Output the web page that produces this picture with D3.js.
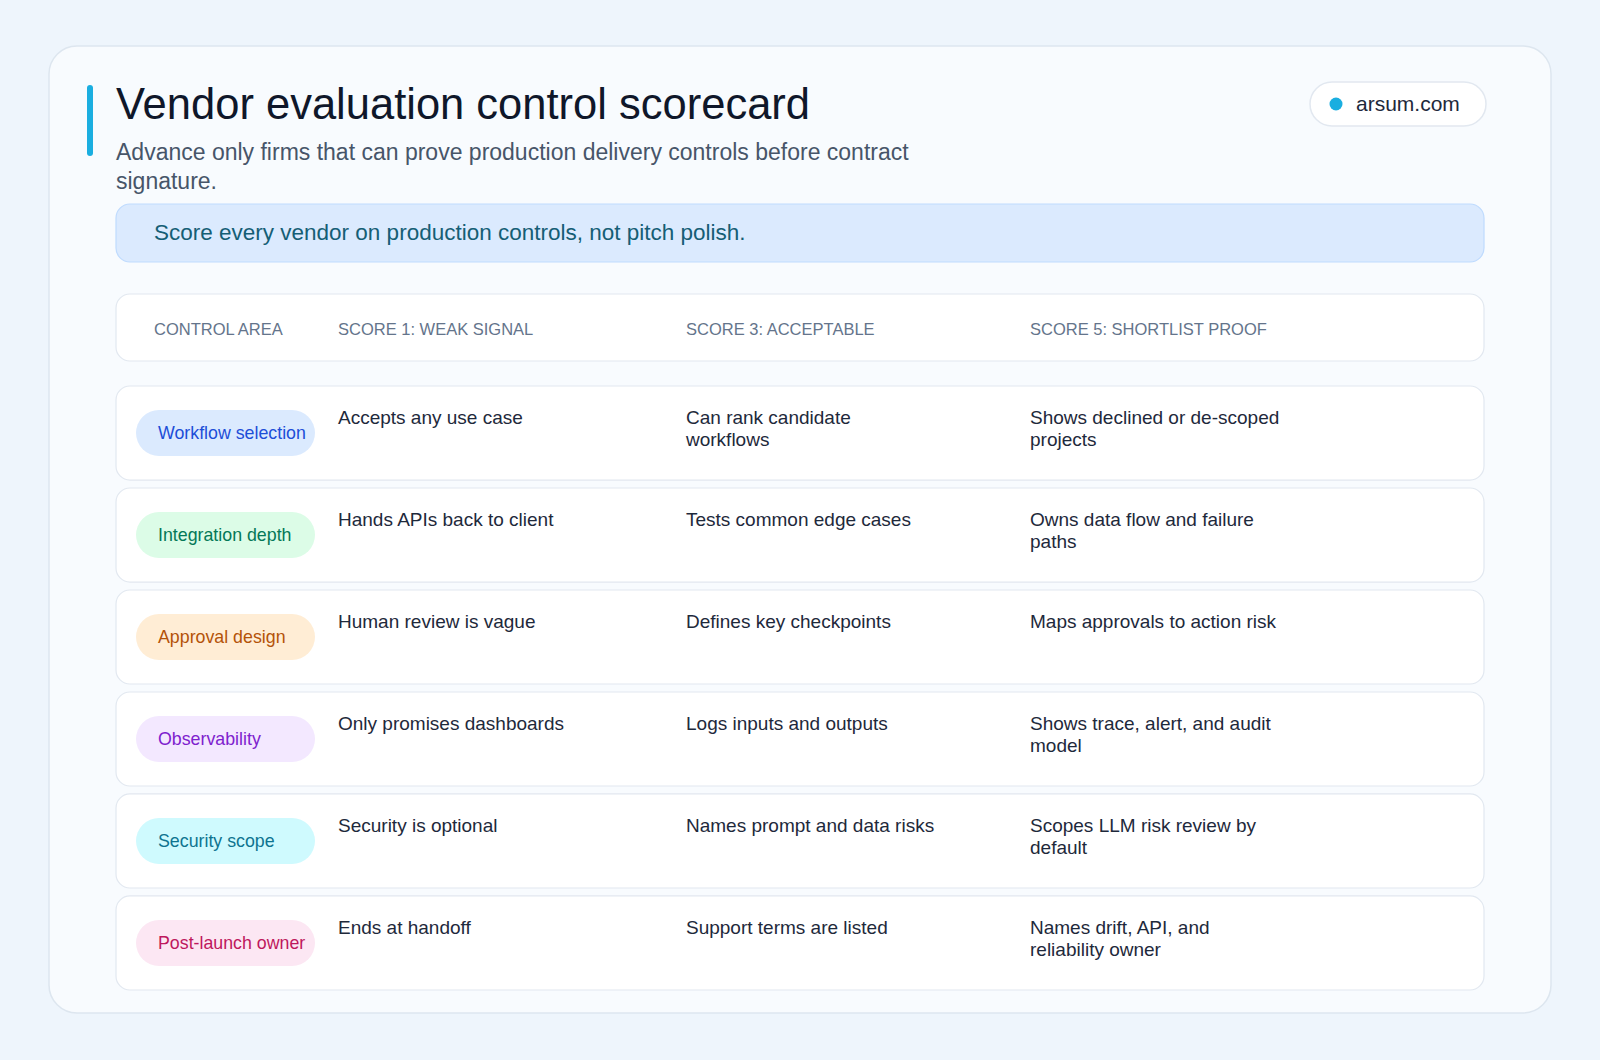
<!DOCTYPE html>
<html><head><meta charset="utf-8">
<script src="https://cdn.jsdelivr.net/npm/d3@7"></script>
<style>body{margin:0;background:#eef5fc}svg{display:block}</style>
</head><body><div id="chart"></div>
<script>
// scorecard content
var columns = ["CONTROL AREA", "SCORE 1: WEAK SIGNAL", "SCORE 3: ACCEPTABLE", "SCORE 5: SHORTLIST PROOF"];
var areas = ["Workflow selection", "Integration depth", "Approval design", "Observability", "Security scope", "Post-launch owner"];
var weak = ["Accepts any use case", "Hands APIs back to client", "Human review is vague", "Only promises dashboards", "Security is optional", "Ends at handoff"];
var acceptable = ["Can rank candidate workflows", "Tests common edge cases", "Defines key checkpoints", "Logs inputs and outputs", "Names prompt and data risks", "Support terms are listed"];
var shortlist = ["Shows declined or de-scoped projects", "Owns data flow and failure paths", "Maps approvals to action risk", "Shows trace, alert, and audit model", "Scopes LLM risk review by default", "Names drift, API, and reliability owner"];
var pillFill = ["#dbeafe", "#dcfce7", "#ffedd5", "#f3e8ff", "#cffafe", "#fce7f3"];
var pillText = ["#1d4ed8", "#047857", "#b45309", "#7e22ce", "#0e7490", "#be185d"];

var W = 1600, H = 1060;
var font = "'Liberation Sans', Arial, sans-serif";

var svg = d3.select("#chart").append("svg").attr("width", W).attr("height", H).style("font-family", font);
svg.append("rect").attr("width", W).attr("height", H).attr("fill", "#eef5fc");

// card
svg.append("rect").attr("x", 49).attr("y", 46).attr("width", 1502).attr("height", 967).attr("rx", 28)
    .attr("fill", "#f8fbfe").attr("stroke", "#dde6ef").attr("stroke-width", 1.5);
svg.append("rect").attr("x", 87).attr("y", 85).attr("width", 6).attr("height", 71).attr("rx", 3).attr("fill", "#1aaee0");

svg.append("text").attr("x", 116).attr("y", 119).attr("font-size", 43.5).attr("fill", "#0f172a")
    .text("Vendor evaluation control scorecard");

function wrap(sel, width, lh){
    sel.each(function(){
        var t = d3.select(this), words = t.text().split(" "), x = t.attr("x");
        t.text(null);
        var line = [], ts = t.append("tspan").attr("x", x);
        words.forEach(function(w){
            line.push(w); ts.text(line.join(" "));
            if (ts.node().getComputedTextLength() > width && line.length > 1) {
                line.pop(); ts.text(line.join(" "));
                line = [w];
                ts = t.append("tspan").attr("x", x).attr("dy", lh).text(w);
            }
        });
    });
}

svg.append("text").attr("x", 116).attr("y", 160).attr("font-size", 23).attr("fill", "#475569")
    .text("Advance only firms that can prove production delivery controls before contract signature.")
    .call(wrap, 820, 29);

// badge
var badge = svg.append("g");
badge.append("rect").attr("x", 1310).attr("y", 82).attr("width", 176).attr("height", 44).attr("rx", 22)
    .attr("fill", "#ffffff").attr("stroke", "#e2e8f0").attr("stroke-width", 1.5);
badge.append("circle").attr("cx", 1336).attr("cy", 104).attr("r", 6.5).attr("fill", "#1aaee0");
badge.append("text").attr("x", 1356).attr("y", 111).attr("font-size", 21).attr("fill", "#1e293b").text("arsum.com");

// banner
svg.append("rect").attr("x", 116).attr("y", 204).attr("width", 1368).attr("height", 58).attr("rx", 14)
    .attr("fill", "#dbeafe").attr("stroke", "#bfdbfe").attr("stroke-width", 1.2);
svg.append("text").attr("x", 154).attr("y", 240).attr("font-size", 22.5).attr("fill", "#155e75")
    .text("Score every vendor on production controls, not pitch polish.");

// column positions
var x = d3.scaleOrdinal().domain(columns).range([154, 338, 686, 1030]);

svg.append("rect").attr("x", 116).attr("y", 294).attr("width", 1368).attr("height", 67).attr("rx", 14)
    .attr("fill", "#ffffff").attr("stroke", "#e2e8f0").attr("stroke-width", 1.2);
svg.selectAll("text.head").data(columns).join("text").attr("class", "head")
    .attr("x", function(d){ return x(d); }).attr("y", 335)
    .attr("font-size", 16.5).attr("fill", "#64748b").text(function(d){ return d; });

var y = d3.scaleBand().domain(areas).range([386, 990]).paddingInner(0.078).paddingOuter(0);
var rows = svg.selectAll("g.row").data(areas).join("g").attr("class", "row")
    .attr("transform", function(d){ return "translate(0," + y(d) + ")"; });
var bh = y.bandwidth();
rows.append("rect").attr("x", 116).attr("width", 1368).attr("height", bh).attr("rx", 14)
    .attr("fill", "#ffffff").attr("stroke", "#e2e8f0").attr("stroke-width", 1.2);
rows.append("rect").attr("x", 136).attr("y", bh / 2 - 23).attr("width", 179).attr("height", 46).attr("rx", 23)
    .attr("fill", function(d, i){ return pillFill[i]; });
rows.append("text").attr("x", 158).attr("y", bh / 2 + 6).attr("font-size", 17.8)
    .attr("fill", function(d, i){ return pillText[i]; }).text(function(d){ return d; });

[weak, acceptable, shortlist].forEach(function(arr, c){
    rows.append("text").attr("x", x(columns[c + 1])).attr("y", 38).attr("font-size", 19).attr("fill", "#1e293b")
        .text(function(d, i){ return arr[i]; })
        .call(wrap, 253, 22);
});
</script>
</body></html>
